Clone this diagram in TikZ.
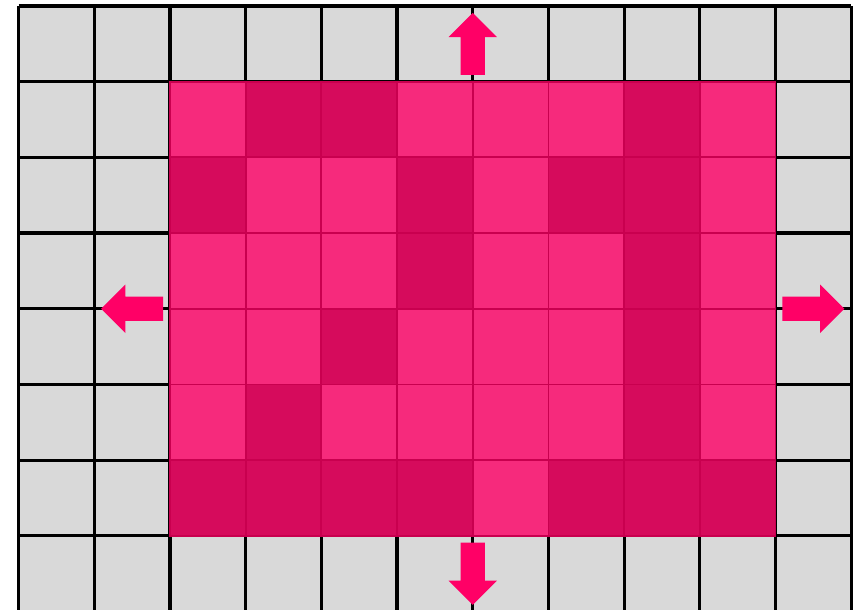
\documentclass[tikz,border=0pt]{standalone}
\usepackage{xcolor}
\usepackage{tikz}

\definecolor{gris}{HTML}{D9D9D9}
\definecolor{claro}{HTML}{F62A7C}
\definecolor{oscuro}{HTML}{D60B5C}
\definecolor{borde}{HTML}{C9004F}
\definecolor{flecha}{HTML}{FF0066}

\begin{document}
\begin{tikzpicture}

    % Margenes
    \useasboundingbox (-0.245,0.034) rectangle (11.195,8.079);

    % Fondo gris con cuadricula
    \fill[gris] (0,0) rectangle (11,8);
    \draw[black, line width=1.2pt] (0,0) grid (11,8);

    % Celdas rosas (1 = oscuro, 0 = claro)
    \foreach \valores [count=\fila] in {{0,1,1,0,0,0,1,0},{1,0,0,1,0,1,1,0},{0,0,0,1,0,0,1,0},{0,0,1,0,0,0,1,0},{0,1,0,0,0,0,1,0},{1,1,1,1,0,1,1,1}}
        \foreach \v [count=\col] in \valores {
            \ifnum\v=1 \def\tono{oscuro}\else\def\tono{claro}\fi
            \filldraw[fill=\tono, draw=borde, line width=0.7pt]
                (\col+1,7-\fila) rectangle (\col+2,8-\fila);
        }

    % Flechas
    \foreach \x/\y/\ang in {6/7.09/0, 6/0.91/180, 1.91/4/90, 10.09/4/-90}
        \fill[flecha, shift={(\x,\y)}, rotate=\ang]
            (-0.16,0) -- (-0.16,0.5) -- (-0.32,0.5) -- (0,0.82)
            -- (0.32,0.5) -- (0.16,0.5) -- (0.16,0) -- cycle;

\end{tikzpicture}
\end{document}
